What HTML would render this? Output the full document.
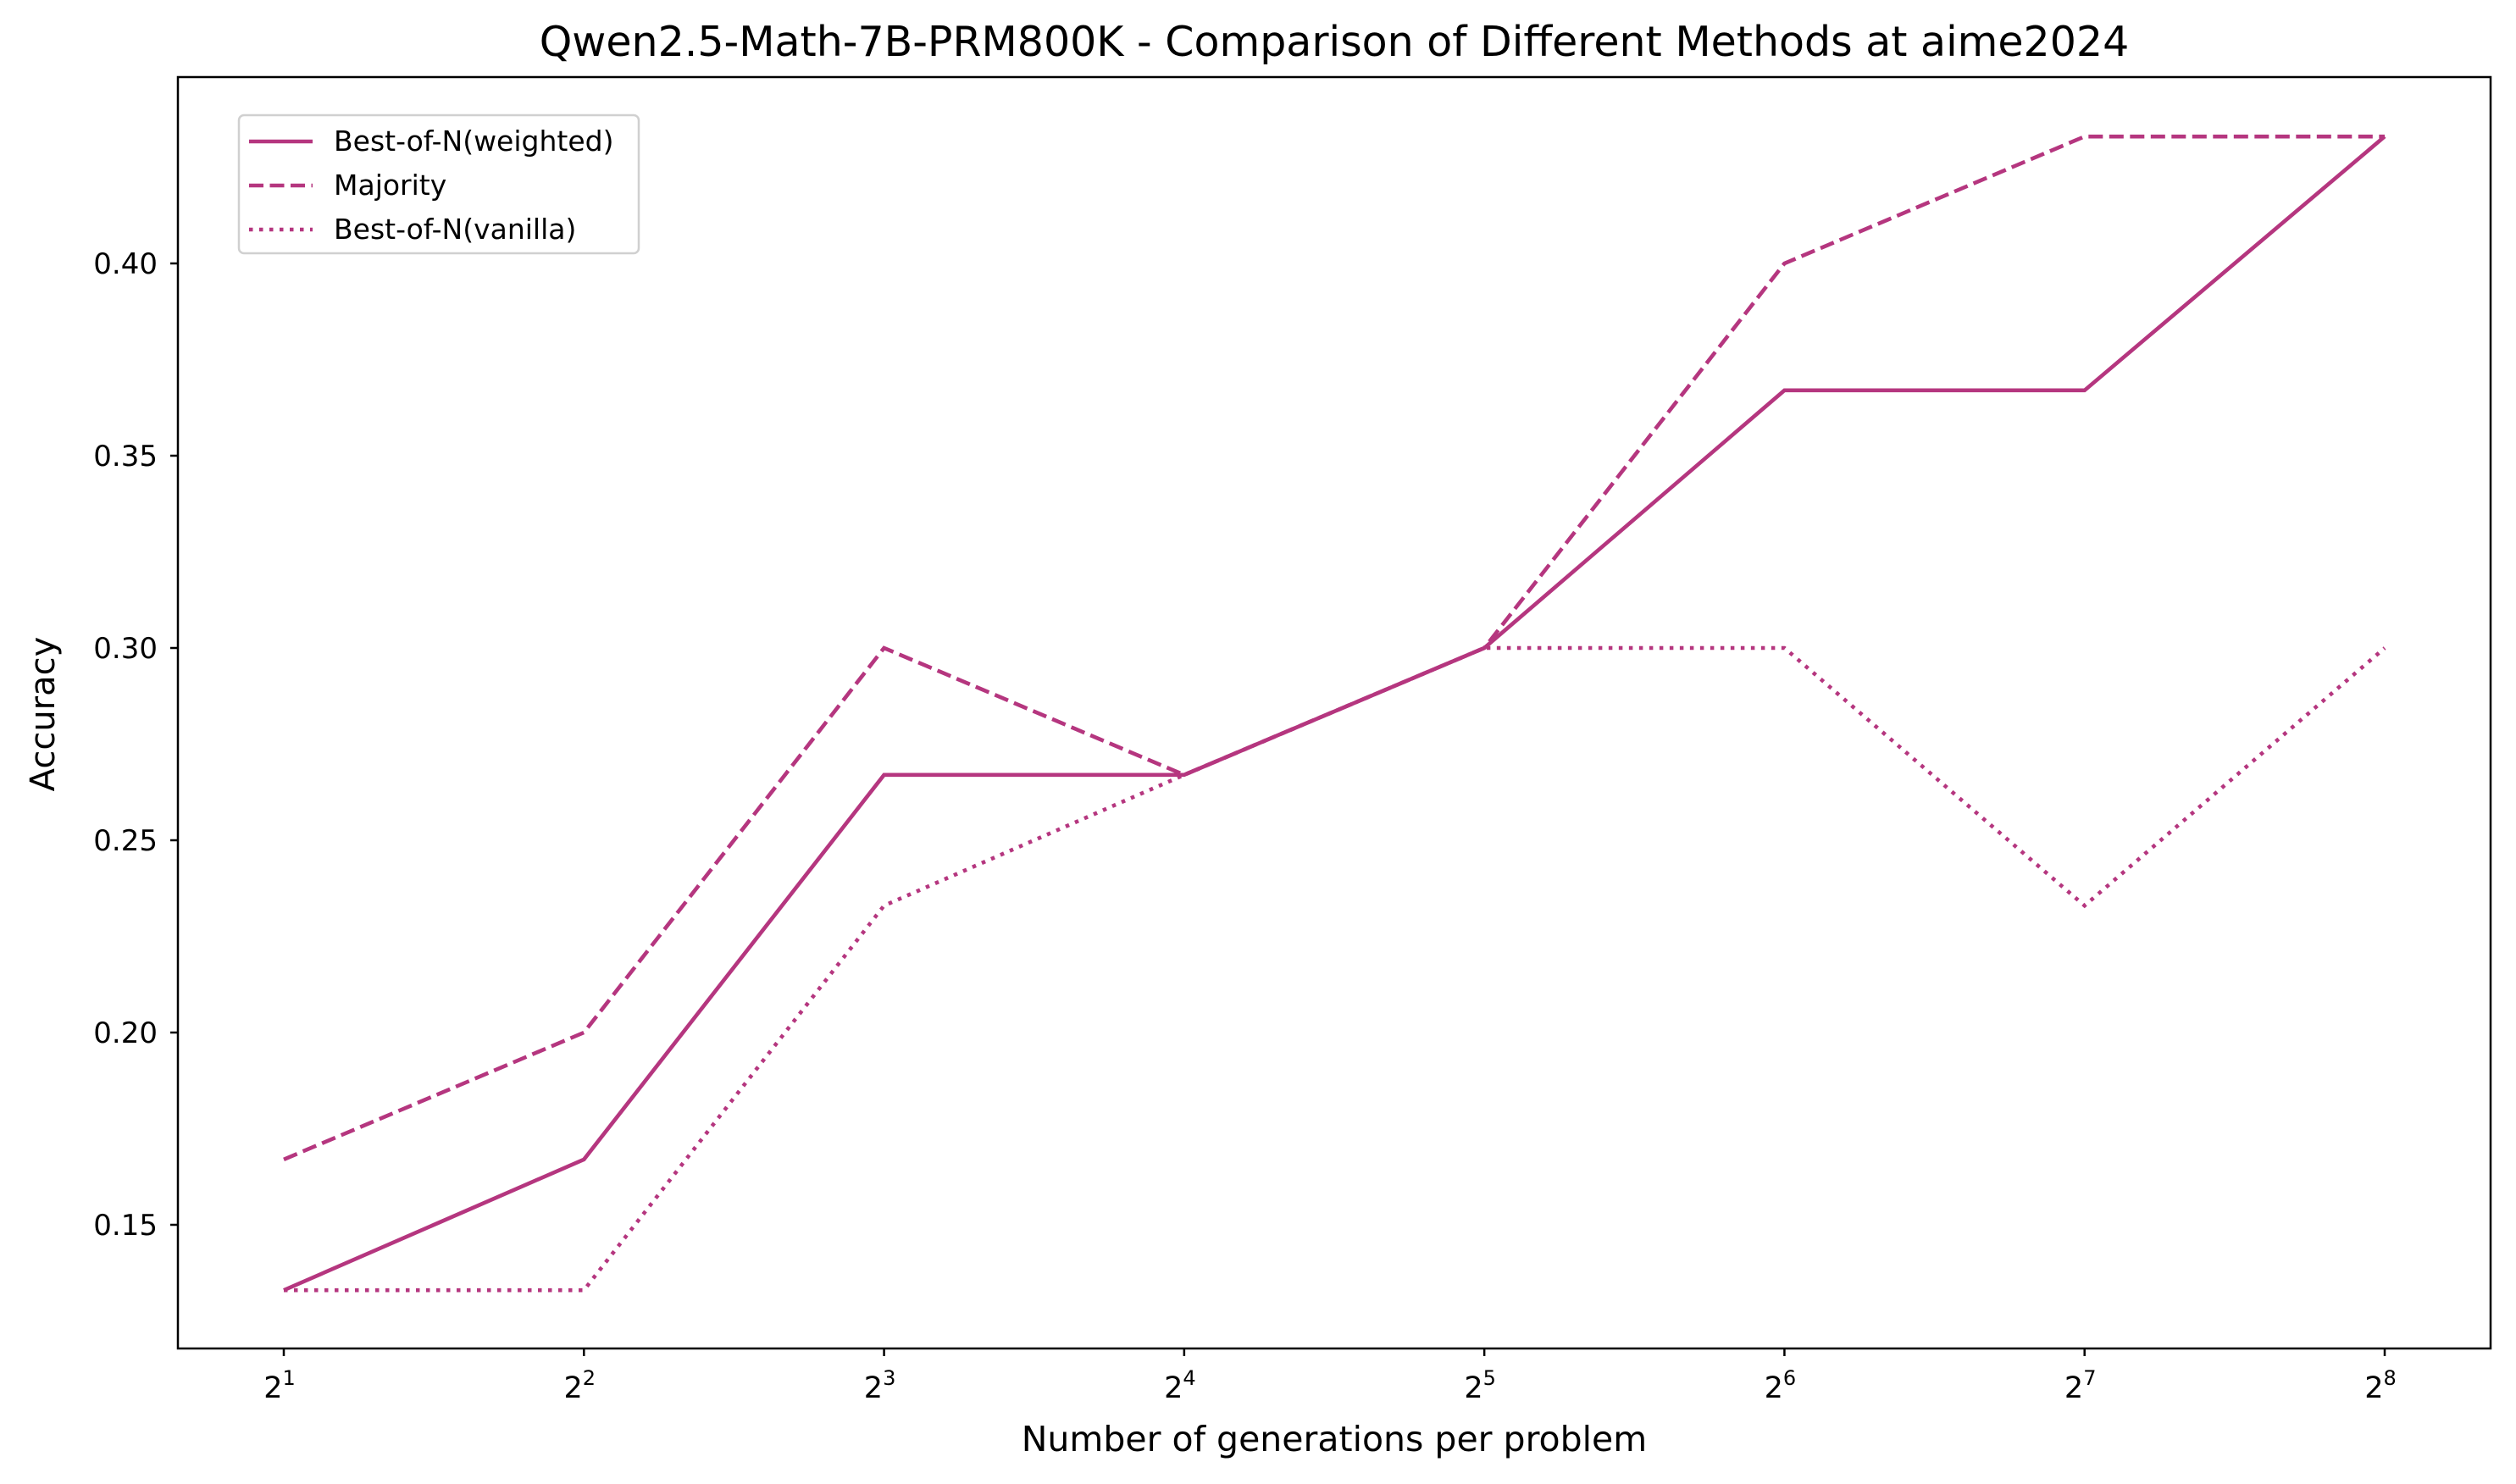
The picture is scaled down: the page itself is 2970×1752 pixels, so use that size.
<!DOCTYPE html>
<html><head><meta charset="utf-8"><style>
html,body{margin:0;padding:0;background:#fff}
svg{display:block;font-family:"DejaVu Sans","Liberation Sans",sans-serif}
</style></head><body>
<svg id="chart" width="2970" height="1752" viewBox="0 0 2970 1752" xmlns="http://www.w3.org/2000/svg">
<rect width="2970" height="1752" fill="#fff"/>
<text x="1575" y="66" font-size="49" text-anchor="middle">Qwen2.5-Math-7B-PRM800K - Comparison of Different Methods at aime2024</text>
<g id="plot"></g>
<text x="1575" y="1713" font-size="41" text-anchor="middle">Number of generations per problem</text>
<text x="0" y="0" font-size="40" text-anchor="middle" transform="translate(64,843) rotate(-90)">Accuracy</text>
<rect x="210" y="91" width="2730" height="1501" fill="none" stroke="#000" stroke-width="2.5"/>
<g id="legend"></g>
</svg>
<script>
const exponents = [1,2,3,4,5,6,7,8];
const weighted = [0.133,0.167,0.267,0.267,0.300,0.367,0.367,0.433];
const majority = [0.167,0.200,0.300,0.267,0.300,0.400,0.433,0.433];
const vanilla = [0.133,0.133,0.233,0.267,0.300,0.300,0.233,0.300];
const yTicks = [0.15,0.20,0.25,0.30,0.35,0.40];
const seriesNames = ["Best-of-N(weighted)","Majority","Best-of-N(vanilla)"];

const NS="http://www.w3.org/2000/svg";
const color="#b5367f";
function xs(e){return 335+(e-1)*(2815-335)/7;}
function ys(v){return 1446-(v-0.15)*(1446-311)/0.25;}
const plot=document.getElementById('plot');
function mk(tag,attrs,parent){const el=document.createElementNS(NS,tag);for(const k in attrs)el.setAttribute(k,attrs[k]);parent.appendChild(el);return el;}

yTicks.forEach(t=>{
  const y=ys(t);
  const tk=mk('line',{x1:201,x2:210,y1:y,y2:y,stroke:'#000','stroke-width':2.5},plot);
  
  
  const lb=mk('text',{x:186,y:y+12,'font-size':34,'text-anchor':'end'},plot);
  
  
  lb.textContent=t.toFixed(2);
});
exponents.forEach(e=>{
  const x=xs(e);
  const tk=mk('line',{x1:x,x2:x,y1:1592,y2:1601,stroke:'#000','stroke-width':2.5},plot);
  
  
  const lb=mk('text',{x:x-5,y:1650,'font-size':35,'text-anchor':'middle'},plot);
  
  
  lb.textContent='2';
  const sp=mk('tspan',{dy:-15,'font-size':24},lb);
  sp.textContent=String(e);
});
const dashes=[null,"17 7.5","4.5 7.5"];
[weighted,majority,vanilla].forEach((s,i)=>{
  const pts=s.map((v,j)=>xs(exponents[j])+','+ys(v)).join(' ');
  const a={points:pts,fill:'none',stroke:color,'stroke-width':4.6};
  if(dashes[i])a['stroke-dasharray']=dashes[i];
  const pl=mk('polyline',a,plot);
  
  
});
const lg=document.getElementById('legend');
const box=mk('rect',{x:282,y:136,width:472,height:163,rx:6,fill:'#fff','fill-opacity':0.8,stroke:'#d0d0d0','stroke-width':2.5},lg);


seriesNames.forEach((n,i)=>{
  const y=167+i*52;
  const a={x1:294,x2:369,y1:y,y2:y,stroke:color,'stroke-width':4.6};
  if(dashes[i])a['stroke-dasharray']=dashes[i];
  const ln=mk('line',a,lg);
  
  
  const t=mk('text',{x:394,y:y+11,'font-size':33},lg);
  
  
  t.textContent=n;
});
</script>
</body></html>
